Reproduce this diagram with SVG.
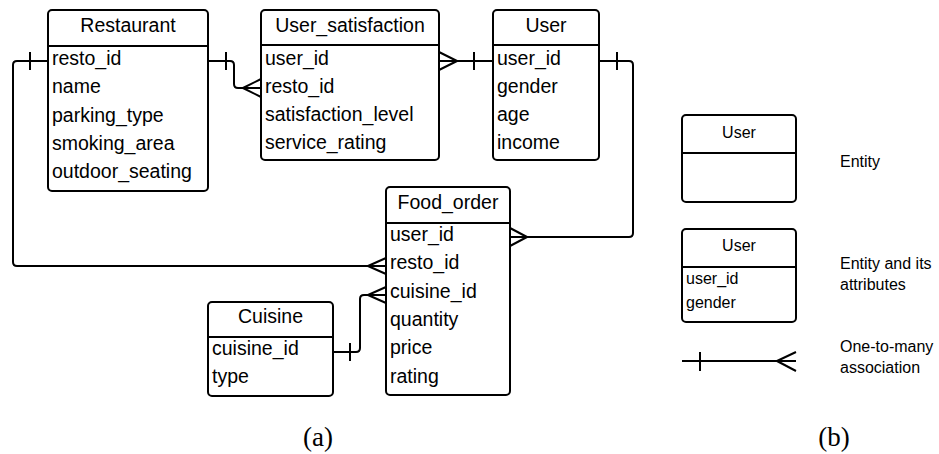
<svg xmlns="http://www.w3.org/2000/svg" width="939" height="454" viewBox="0 0 939 454">
<style>
.box{fill:#fff;stroke:#000;stroke-width:2}
.sep{stroke:#000;stroke-width:2}
.t{font-family:"Liberation Sans",Arial,sans-serif;font-size:19.5px;fill:#000}
.tt{font-family:"Liberation Sans",Arial,sans-serif;font-size:19.5px;fill:#000;text-anchor:middle}
.l{font-family:"Liberation Sans",Arial,sans-serif;font-size:16px;fill:#000}
.lt{font-family:"Liberation Sans",Arial,sans-serif;font-size:16px;fill:#000;text-anchor:middle}
.c{fill:none;stroke:#000;stroke-width:2}
.cap{font-family:"Liberation Serif","DejaVu Serif",serif;font-size:27px;fill:#000;text-anchor:middle}
</style>
<g id="Restaurant">
<rect class="box" x="48" y="10" width="160" height="181" rx="4"/>
<line class="sep" x1="48" y1="46" x2="208" y2="46"/>
<text class="tt" x="128" y="32">Restaurant</text>
<text class="t" x="52" y="65">resto_id</text>
<text class="t" x="52" y="93.3">name</text>
<text class="t" x="52" y="121.6">parking_type</text>
<text class="t" x="52" y="149.9">smoking_area</text>
<text class="t" x="52" y="178.2">outdoor_seating</text>
</g>
<g id="User_satisfaction">
<rect class="box" x="261" y="10" width="178" height="150" rx="4"/>
<line class="sep" x1="261" y1="45" x2="439" y2="45"/>
<text class="tt" x="350" y="32">User_satisfaction</text>
<text class="t" x="265" y="64.5">user_id</text>
<text class="t" x="265" y="92.5">resto_id</text>
<text class="t" x="265" y="120.5">satisfaction_level</text>
<text class="t" x="265" y="148.5">service_rating</text>
</g>
<g id="User">
<rect class="box" x="493" y="10" width="106" height="150" rx="4"/>
<line class="sep" x1="493" y1="45" x2="599" y2="45"/>
<text class="tt" x="546" y="32">User</text>
<text class="t" x="497" y="64.5">user_id</text>
<text class="t" x="497" y="92.5">gender</text>
<text class="t" x="497" y="120.5">age</text>
<text class="t" x="497" y="148.5">income</text>
</g>
<g id="Food_order">
<rect class="box" x="386" y="187" width="124" height="208" rx="4"/>
<line class="sep" x1="386" y1="223" x2="510" y2="223"/>
<text class="tt" x="448" y="209">Food_order</text>
<text class="t" x="390" y="241">user_id</text>
<text class="t" x="390" y="269.3">resto_id</text>
<text class="t" x="390" y="297.6">cuisine_id</text>
<text class="t" x="390" y="325.9">quantity</text>
<text class="t" x="390" y="354.2">price</text>
<text class="t" x="390" y="382.5">rating</text>
</g>
<g id="Cuisine">
<rect class="box" x="208" y="302" width="125" height="94" rx="4"/>
<line class="sep" x1="208" y1="337" x2="333" y2="337"/>
<text class="tt" x="270.5" y="323">Cuisine</text>
<text class="t" x="212" y="355">cuisine_id</text>
<text class="t" x="212" y="383">type</text>
</g>
<g id="connectors">
<path class="c" d="M48,61 H17 Q13,61 13,65 V262 Q13,266 17,266 H386"/>
<path class="c" d="M30,52 V70 M368,266 L386,258 M368,266 L386,274"/>
<path class="c" d="M208,61 H230 Q234,61 234,65 V84 Q234,88 238,88 H261"/>
<path class="c" d="M226,52 V70 M243,88 L261,79 M243,88 L261,97"/>
<path class="c" d="M439,61 H493"/>
<path class="c" d="M474,52 V70 M457,61 L439,52 M457,61 L439,70"/>
<path class="c" d="M599,61 H629 Q633,61 633,65 V233 Q633,237 629,237 H510"/>
<path class="c" d="M617,52 V70 M527,237 L510,228 M527,237 L510,246"/>
<path class="c" d="M333,352 H356 Q360,352 360,348 V299 Q360,295 364,295 H386"/>
<path class="c" d="M350,343 V361 M368,295 L386,287 M368,295 L386,303"/>
</g>
<g id="legend_entity">
<rect class="box" x="682" y="115" width="114" height="87" rx="4"/>
<line class="sep" x1="682" y1="153" x2="796" y2="153"/>
<text class="lt" x="739" y="138">User</text>
<text class="l" x="840" y="167">Entity</text>
</g>
<g id="legend_attributes">
<rect class="box" x="682" y="229" width="114" height="93" rx="4"/>
<line class="sep" x1="682" y1="267" x2="796" y2="267"/>
<text class="lt" x="739" y="251">User</text>
<text class="l" x="686" y="284">user_id</text>
<text class="l" x="686" y="308">gender</text>
<text class="l" x="840" y="269">Entity and its</text>
<text class="l" x="840" y="290">attributes</text>
</g>
<g id="legend_association">
<path class="c" d="M682,361 H796 M700,352 V371 M777,361 L796,352 M777,361 L796,371"/>
<text class="l" x="840" y="352">One-to-many</text>
<text class="l" x="840" y="373">association</text>
</g>
<text class="cap" x="318" y="446">(a)</text>
<text class="cap" x="834" y="446">(b)</text>
</svg>
